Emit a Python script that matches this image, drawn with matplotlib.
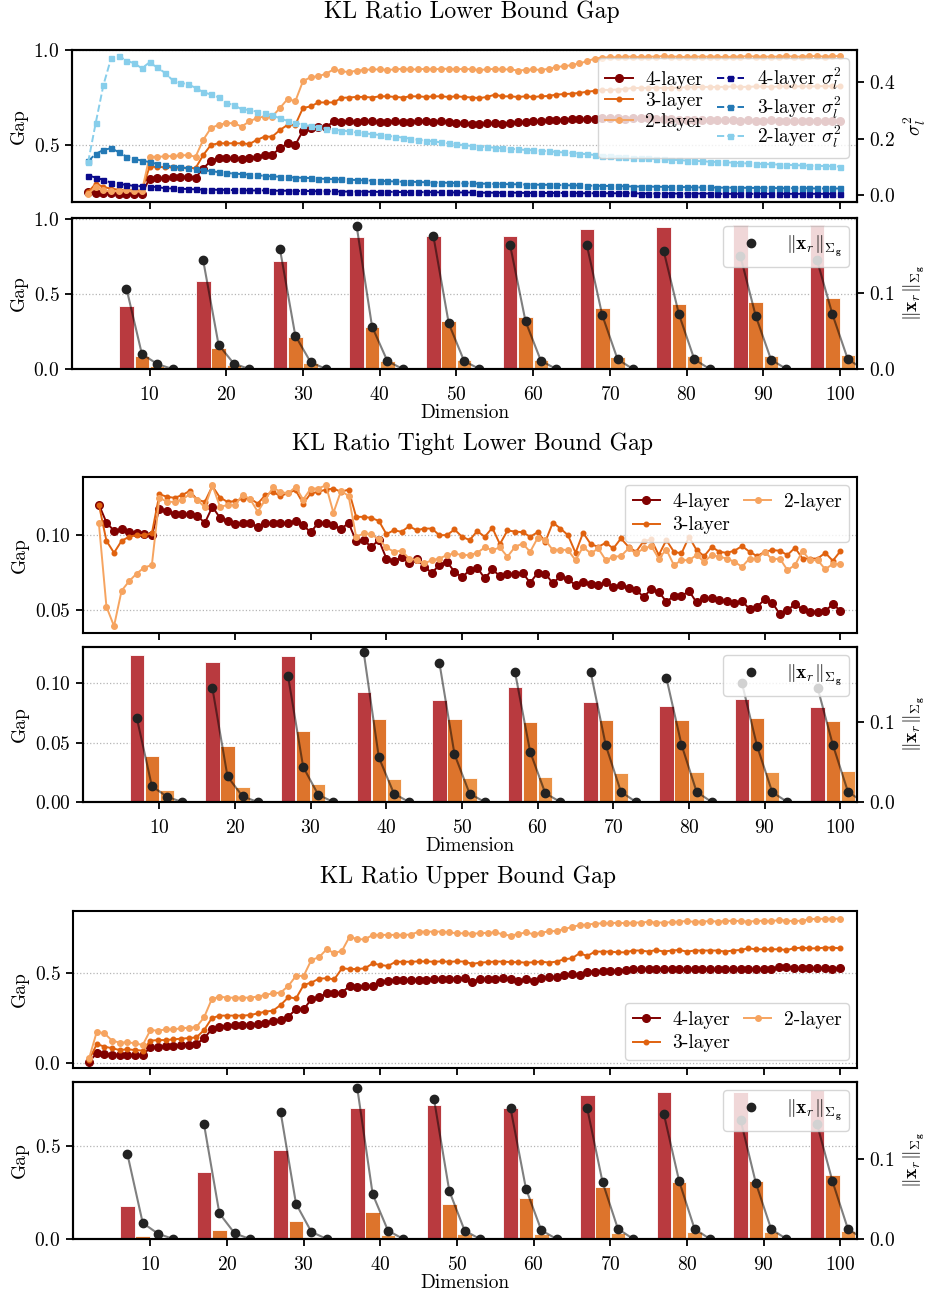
import numpy as np
import matplotlib
matplotlib.use("Agg")
import matplotlib.pyplot as plt
from matplotlib.ticker import MultipleLocator

plt.rcParams.update({
    "font.family": "serif",
    "font.serif": ["cmr10"],
    "mathtext.fontset": "cm",
    "axes.formatter.use_mathtext": True,
    "axes.unicode_minus": False,
    "font.size": 14,
})

# ---------------- data ----------------
dims = np.arange(2, 101)
groups = np.arange(10, 101, 10)

# KL ratio lower bound gap (lines)
lb4 = [0.252, 0.250, 0.248, 0.246, 0.244, 0.244, 0.242, 0.242, 0.323, 0.326,
       0.326, 0.330, 0.332, 0.334, 0.328, 0.376, 0.417, 0.429, 0.429, 0.429,
       0.427, 0.432, 0.438, 0.447, 0.450, 0.482, 0.509, 0.500, 0.576, 0.588,
       0.594, 0.594, 0.624, 0.622, 0.626, 0.620, 0.624, 0.624, 0.620, 0.622,
       0.624, 0.620, 0.622, 0.626, 0.624, 0.620, 0.624, 0.622, 0.618, 0.615,
       0.612, 0.608, 0.614, 0.616, 0.612, 0.618, 0.620, 0.622, 0.625, 0.626,
       0.630, 0.632, 0.633, 0.635, 0.636, 0.638, 0.638, 0.640, 0.640, 0.640,
       0.638, 0.640, 0.642, 0.640, 0.638, 0.636, 0.636, 0.634, 0.634, 0.632,
       0.632, 0.630, 0.632, 0.630, 0.630, 0.628, 0.630, 0.628, 0.628, 0.630,
       0.628, 0.626, 0.628, 0.628, 0.626, 0.628, 0.626, 0.628, 0.628]
lb3 = [0.252, 0.297, 0.279, 0.270, 0.265, 0.262, 0.262, 0.260, 0.385, 0.385,
       0.383, 0.383, 0.380, 0.380, 0.378, 0.447, 0.500, 0.509, 0.509, 0.509,
       0.509, 0.505, 0.527, 0.544, 0.544, 0.579, 0.606, 0.606, 0.695, 0.703,
       0.724, 0.724, 0.724, 0.748, 0.750, 0.753, 0.753, 0.750, 0.756, 0.756,
       0.753, 0.750, 0.756, 0.756, 0.753, 0.756, 0.756, 0.753, 0.756, 0.753,
       0.750, 0.747, 0.753, 0.765, 0.756, 0.756, 0.753, 0.756, 0.753, 0.756,
       0.758, 0.765, 0.768, 0.770, 0.774, 0.780, 0.785, 0.790, 0.790, 0.792,
       0.795, 0.800, 0.800, 0.800, 0.802, 0.800, 0.800, 0.802, 0.804, 0.804,
       0.805, 0.806, 0.805, 0.806, 0.808, 0.806, 0.806, 0.808, 0.808, 0.806,
       0.808, 0.809, 0.808, 0.809, 0.808, 0.809, 0.810, 0.809, 0.809]
lb2 = [0.244, 0.279, 0.262, 0.256, 0.258, 0.262, 0.256, 0.256, 0.438, 0.438,
       0.440, 0.442, 0.445, 0.447, 0.438, 0.527, 0.589, 0.606, 0.615, 0.615,
       0.597, 0.624, 0.642, 0.650, 0.650, 0.695, 0.742, 0.730, 0.836, 0.857,
       0.862, 0.875, 0.898, 0.889, 0.883, 0.892, 0.895, 0.898, 0.898, 0.895,
       0.898, 0.901, 0.898, 0.898, 0.901, 0.898, 0.901, 0.901, 0.898, 0.901,
       0.898, 0.895, 0.898, 0.901, 0.898, 0.898, 0.892, 0.895, 0.898, 0.895,
       0.901, 0.910, 0.915, 0.920, 0.930, 0.940, 0.955, 0.960, 0.962, 0.962,
       0.965, 0.965, 0.962, 0.965, 0.965, 0.968, 0.965, 0.965, 0.962, 0.965,
       0.965, 0.965, 0.965, 0.962, 0.965, 0.965, 0.968, 0.965, 0.965, 0.965,
       0.965, 0.968, 0.965, 0.965, 0.968, 0.968, 0.965, 0.968, 0.968]

# sigma_l^2 (right axis of the first panel)
s4 = [0.069, 0.062, 0.053, 0.044, 0.039, 0.036, 0.032, 0.031, 0.030, 0.028,
      0.024, 0.023, 0.022, 0.021, 0.020, 0.019, 0.019, 0.018, 0.018, 0.017,
      0.017, 0.016, 0.016, 0.016, 0.015, 0.015, 0.015, 0.014, 0.014, 0.014,
      0.013, 0.013, 0.013, 0.012, 0.012, 0.012, 0.012, 0.011, 0.011, 0.011,
      0.011, 0.010, 0.010, 0.010, 0.010, 0.010, 0.009, 0.009, 0.009, 0.009,
      0.009, 0.008, 0.008, 0.008, 0.008, 0.008, 0.008, 0.007, 0.007, 0.007,
      0.007, 0.007, 0.007, 0.007, 0.006, 0.006, 0.006, 0.006, 0.006, 0.006,
      0.006, 0.006, 0.005, 0.005, 0.005, 0.005, 0.005, 0.005, 0.005, 0.005,
      0.005, 0.005, 0.004, 0.004, 0.004, 0.004, 0.004, 0.004, 0.004, 0.004,
      0.004, 0.004, 0.004, 0.004, 0.004, 0.004, 0.004, 0.004, 0.004]
s3 = [0.120, 0.146, 0.160, 0.166, 0.152, 0.136, 0.128, 0.122, 0.117, 0.110,
      0.106, 0.101, 0.098, 0.095, 0.091, 0.088, 0.085, 0.081, 0.078, 0.076,
      0.074, 0.072, 0.070, 0.068, 0.066, 0.065, 0.063, 0.062, 0.061, 0.060,
      0.058, 0.057, 0.056, 0.055, 0.054, 0.053, 0.052, 0.051, 0.050, 0.049,
      0.048, 0.047, 0.047, 0.046, 0.045, 0.044, 0.044, 0.043, 0.042, 0.041,
      0.041, 0.040, 0.040, 0.039, 0.039, 0.038, 0.038, 0.037, 0.037, 0.036,
      0.036, 0.035, 0.035, 0.034, 0.034, 0.033, 0.033, 0.032, 0.032, 0.031,
      0.031, 0.030, 0.030, 0.030, 0.029, 0.029, 0.028, 0.028, 0.028, 0.027,
      0.027, 0.027, 0.026, 0.026, 0.026, 0.026, 0.025, 0.025, 0.025, 0.025,
      0.024, 0.024, 0.024, 0.024, 0.024, 0.023, 0.023, 0.023, 0.023]
s2 = [0.116, 0.257, 0.391, 0.486, 0.494, 0.477, 0.468, 0.450, 0.471, 0.453,
      0.434, 0.408, 0.399, 0.393, 0.381, 0.365, 0.357, 0.347, 0.326, 0.320,
      0.304, 0.302, 0.296, 0.290, 0.284, 0.272, 0.263, 0.257, 0.249, 0.245,
      0.240, 0.236, 0.232, 0.229, 0.226, 0.222, 0.219, 0.216, 0.213, 0.210,
      0.207, 0.204, 0.200, 0.196, 0.193, 0.190, 0.187, 0.183, 0.180, 0.177,
      0.174, 0.172, 0.170, 0.168, 0.166, 0.164, 0.162, 0.160, 0.159, 0.157,
      0.155, 0.153, 0.151, 0.149, 0.147, 0.145, 0.142, 0.140, 0.138, 0.136,
      0.135, 0.133, 0.131, 0.130, 0.128, 0.127, 0.125, 0.124, 0.122, 0.121,
      0.120, 0.118, 0.117, 0.116, 0.115, 0.113, 0.112, 0.111, 0.110, 0.109,
      0.108, 0.107, 0.106, 0.105, 0.104, 0.103, 0.103, 0.102, 0.101]

# KL ratio tight lower bound gap (lines)
tlb4 = [0.1204, 0.1084, 0.1029, 0.1040, 0.1022, 0.1016, 0.1007, 0.1000, 0.1173, 0.1162,
        0.1140, 0.1144, 0.1140, 0.1129, 0.1082, 0.1189, 0.1116, 0.1096, 0.1073, 0.1078,
        0.1078, 0.1056, 0.1078, 0.1078, 0.1078, 0.1078, 0.1096, 0.1067, 0.1018, 0.1084,
        0.1082, 0.1067, 0.1040, 0.1082, 0.0960, 0.0967, 0.0922, 0.0967, 0.0844, 0.0829,
        0.0851, 0.0816, 0.0844, 0.0789, 0.0749, 0.0800, 0.0822, 0.0756, 0.0718, 0.0767,
        0.0784, 0.0711, 0.0771, 0.0727, 0.0740, 0.0744, 0.0749, 0.0682, 0.0749, 0.0744,
        0.0678, 0.0727, 0.0705, 0.0667, 0.0690, 0.0671, 0.0667, 0.0684, 0.0656, 0.0667,
        0.0644, 0.0633, 0.0589, 0.0638, 0.0622, 0.0556, 0.0593, 0.0593, 0.0627, 0.0551,
        0.0578, 0.0578, 0.0567, 0.0560, 0.0544, 0.0560, 0.0507, 0.0522, 0.0571, 0.0549,
        0.0473, 0.0500, 0.0538, 0.0504, 0.0489, 0.0489, 0.0493, 0.0540, 0.0496]
tlb3 = [0.1204, 0.0962, 0.0882, 0.0962, 0.0989, 0.1000, 0.1000, 0.1011, 0.1273, 0.1256,
        0.1249, 0.1267, 0.1295, 0.1237, 0.1222, 0.1327, 0.1251, 0.1222, 0.1227, 0.1244,
        0.1244, 0.1211, 0.1267, 0.1289, 0.1260, 0.1282, 0.1300, 0.1211, 0.1278, 0.1289,
        0.1304, 0.1311, 0.1289, 0.1304, 0.1122, 0.1122, 0.1115, 0.1095, 0.1007, 0.1033,
        0.1022, 0.1060, 0.1033, 0.1044, 0.1044, 0.1000, 0.1000, 0.1038, 0.0989, 0.0967,
        0.1027, 0.0989, 0.1049, 0.0940, 0.1031, 0.1024, 0.1020, 0.0989, 0.1020, 0.0956,
        0.1084, 0.1044, 0.1000, 0.0882, 0.1016, 0.0940, 0.0922, 0.0949, 0.0911, 0.0978,
        0.0922, 0.0889, 0.0960, 0.0971, 0.0867, 0.0967, 0.0889, 0.0878, 0.0989, 0.0900,
        0.0860, 0.0922, 0.0889, 0.0882, 0.0896, 0.0927, 0.0889, 0.0860, 0.0889, 0.0900,
        0.0896, 0.0867, 0.0916, 0.0844, 0.0844, 0.0844, 0.0882, 0.0829, 0.0893]
tlb2 = [0.1078, 0.0522, 0.0393, 0.0629, 0.0693, 0.0744, 0.0784, 0.0800, 0.1251, 0.1222,
        0.1222, 0.1237, 0.1273, 0.1237, 0.1185, 0.1333, 0.1190, 0.1200, 0.1200, 0.1270,
        0.1240, 0.1156, 0.1237, 0.1318, 0.1289, 0.1278, 0.1322, 0.1237, 0.1311, 0.1311,
        0.1333, 0.1149, 0.1295, 0.1262, 0.0989, 0.1011, 0.1007, 0.0971, 0.0918, 0.0889,
        0.0896, 0.0844, 0.0833, 0.0811, 0.0833, 0.0844, 0.0867, 0.0878, 0.0867, 0.0867,
        0.0882, 0.0918, 0.0900, 0.0918, 0.0856, 0.0922, 0.0944, 0.0889, 0.0982, 0.0967,
        0.0900, 0.0904, 0.0900, 0.0833, 0.0922, 0.0878, 0.0911, 0.0833, 0.0856, 0.0860,
        0.0911, 0.0878, 0.0911, 0.0927, 0.0844, 0.0904, 0.0800, 0.0833, 0.0833, 0.0867,
        0.0822, 0.0867, 0.0856, 0.0844, 0.0822, 0.0789, 0.0844, 0.0844, 0.0889, 0.0838,
        0.0844, 0.0767, 0.0800, 0.0893, 0.0833, 0.0833, 0.0773, 0.0807, 0.0807]

# KL ratio upper bound gap (lines)
ub4 = [0.009, 0.055, 0.051, 0.048, 0.046, 0.046, 0.046, 0.046, 0.088, 0.090,
       0.094, 0.097, 0.100, 0.102, 0.106, 0.138, 0.187, 0.202, 0.208, 0.210,
       0.211, 0.213, 0.215, 0.220, 0.235, 0.238, 0.258, 0.298, 0.298, 0.353,
       0.364, 0.386, 0.386, 0.390, 0.427, 0.420, 0.427, 0.427, 0.450, 0.455,
       0.458, 0.458, 0.460, 0.462, 0.462, 0.465, 0.465, 0.466, 0.467, 0.469,
       0.451, 0.463, 0.465, 0.465, 0.469, 0.465, 0.456, 0.463, 0.456, 0.469,
       0.474, 0.478, 0.487, 0.493, 0.487, 0.506, 0.506, 0.509, 0.509, 0.511,
       0.515, 0.519, 0.520, 0.520, 0.520, 0.518, 0.520, 0.518, 0.520, 0.518,
       0.520, 0.520, 0.518, 0.520, 0.518, 0.520, 0.520, 0.518, 0.520, 0.520,
       0.530, 0.533, 0.526, 0.524, 0.524, 0.524, 0.524, 0.522, 0.524]
ub3 = [0.018, 0.106, 0.092, 0.083, 0.073, 0.077, 0.073, 0.070, 0.125, 0.128,
       0.128, 0.132, 0.136, 0.139, 0.143, 0.183, 0.248, 0.263, 0.263, 0.263,
       0.263, 0.266, 0.275, 0.285, 0.290, 0.322, 0.364, 0.358, 0.432, 0.445,
       0.467, 0.469, 0.463, 0.524, 0.520, 0.520, 0.524, 0.551, 0.542, 0.537,
       0.560, 0.560, 0.560, 0.562, 0.562, 0.560, 0.562, 0.560, 0.562, 0.561,
       0.548, 0.555, 0.558, 0.561, 0.561, 0.558, 0.558, 0.555, 0.557, 0.561,
       0.555, 0.561, 0.574, 0.579, 0.607, 0.592, 0.616, 0.616, 0.616, 0.612,
       0.612, 0.622, 0.622, 0.616, 0.625, 0.616, 0.622, 0.625, 0.616, 0.622,
       0.622, 0.622, 0.622, 0.616, 0.622, 0.625, 0.634, 0.629, 0.629, 0.629,
       0.629, 0.625, 0.634, 0.638, 0.634, 0.634, 0.638, 0.638, 0.634]
ub2 = [0.027, 0.174, 0.165, 0.125, 0.114, 0.116, 0.110, 0.101, 0.183, 0.180,
       0.187, 0.187, 0.193, 0.196, 0.200, 0.253, 0.353, 0.368, 0.362, 0.362,
       0.362, 0.362, 0.368, 0.377, 0.386, 0.390, 0.427, 0.482, 0.482, 0.570,
       0.585, 0.629, 0.607, 0.621, 0.699, 0.684, 0.684, 0.708, 0.708, 0.708,
       0.708, 0.708, 0.710, 0.726, 0.726, 0.726, 0.726, 0.722, 0.717, 0.717,
       0.715, 0.717, 0.720, 0.722, 0.711, 0.704, 0.713, 0.722, 0.712, 0.720,
       0.728, 0.730, 0.740, 0.752, 0.762, 0.765, 0.770, 0.772, 0.772, 0.776,
       0.772, 0.776, 0.776, 0.780, 0.776, 0.776, 0.778, 0.782, 0.784, 0.780,
       0.782, 0.784, 0.782, 0.784, 0.787, 0.784, 0.782, 0.784, 0.787, 0.784,
       0.790, 0.787, 0.784, 0.787, 0.795, 0.797, 0.797, 0.797, 0.797]

# per-layer bars at each dimension group (layer 1..4)
lb_bar1 = [0.420, 0.589, 0.723, 0.886, 0.890, 0.892, 0.937, 0.948, 0.960, 0.960]
lb_bar2 = [0.087, 0.140, 0.212, 0.283, 0.320, 0.350, 0.410, 0.437, 0.446, 0.473]
lb_bar3 = [0.020, 0.030, 0.040, 0.054, 0.060, 0.062, 0.082, 0.085, 0.085, 0.094]
lb_bar4 = [0.002, 0.002, 0.002, 0.003, 0.003, 0.003, 0.003, 0.003, 0.003, 0.003]

tlb_bar1 = [0.1235, 0.1180, 0.1227, 0.0924, 0.0857, 0.0966, 0.0840, 0.0812, 0.0866, 0.0798]
tlb_bar2 = [0.0387, 0.0470, 0.0600, 0.0697, 0.0695, 0.0672, 0.0689, 0.0692, 0.0706, 0.0680]
tlb_bar3 = [0.0098, 0.0126, 0.0154, 0.0193, 0.0202, 0.0207, 0.0240, 0.0250, 0.0252, 0.0258]
tlb_bar4 = [0.0003, 0.0003, 0.0003, 0.0004, 0.0004, 0.0004, 0.0004, 0.0004, 0.0004, 0.0004]

ub_bar1 = [0.178, 0.357, 0.478, 0.703, 0.719, 0.701, 0.770, 0.786, 0.785, 0.797]
ub_bar2 = [0.014, 0.050, 0.096, 0.146, 0.188, 0.220, 0.276, 0.304, 0.310, 0.340]
ub_bar3 = [0.002, 0.004, 0.010, 0.021, 0.025, 0.028, 0.034, 0.037, 0.039, 0.044]
ub_bar4 = [0.000, 0.000, 0.001, 0.001, 0.001, 0.001, 0.001, 0.001, 0.001, 0.001]

# ||x_r||_{Sigma_g} per layer (right axis of bar panels)
xr1 = [0.106, 0.143, 0.158, 0.188, 0.175, 0.163, 0.163, 0.156, 0.149, 0.143]
xr2 = [0.020, 0.032, 0.044, 0.056, 0.060, 0.063, 0.071, 0.072, 0.070, 0.072]
xr3 = [0.0066, 0.0070, 0.0090, 0.0105, 0.0105, 0.0110, 0.0128, 0.0128, 0.0123, 0.0130]
xr4 = [0.0, 0.0, 0.0, 0.0, 0.0, 0.0, 0.0, 0.0, 0.0, 0.0]

# ---------------- style ----------------
C4, C3, C2 = "#800000", "#e0620f", "#f6a460"
CS4, CS3, CS2 = "#0a0a8c", "#2479b5", "#87ceeb"
BAR_COLORS = ["#b93a3f", "#dd742c", "#eb9246", "#f2b070"]
OFFSETS = np.array([-3, -1, 1, 3])
XLIM = (-0.1, 102.2)
XR_LABEL = r"$\|\mathbf{x}_r\|_{\Sigma_\mathbf{g}}$"
LEG = dict(fontsize=14, borderaxespad=0.4, handlelength=1.4, handletextpad=0.65,
           columnspacing=0.7)

W, H = 929, 1300
fig = plt.figure(figsize=(W / 100, H / 100), dpi=100)


def box(l, t, r, b):
    return [l / W, 1 - b / H, (r - l) / W, (b - t) / H]


def style(ax):
    for s in ax.spines.values():
        s.set_linewidth(1.5)
    ax.tick_params(width=1.3, length=5, labelsize=14, pad=4)
    ax.tick_params(axis="x", pad=7.5)
    ax.set_xlim(*XLIM)
    ax.set_xticks(groups)


def grid(ax):
    ax.set_axisbelow(True)
    ax.yaxis.grid(True, ls=":", color="#b5b5b5", lw=0.9)


def line_panel(ax, y4, y3, y2):
    style(ax)
    grid(ax)
    h4, = ax.plot(dims, y4, "-o", color=C4, ms=5.5, lw=1.4, label="4-layer")
    h3, = ax.plot(dims, y3, "-o", color=C3, ms=3.3, lw=1.4, label="3-layer")
    h2, = ax.plot(dims, y2, "-o", color=C2, ms=4.0, lw=1.4, label="2-layer")
    ax.tick_params(labelbottom=False)
    ax.set_ylabel("Gap", fontsize=14)
    return [h4, h3, h2]


def bar_panel(ax, bars, ylim_l, ylim_r, loc_l):
    style(ax)
    grid(ax)
    for vals, off, col in zip(bars, OFFSETS, BAR_COLORS):
        ax.bar(groups + off, vals, width=1.9, color=col, edgecolor="white", lw=0.6)
    ax.set_ylim(*ylim_l)
    ax.yaxis.set_major_locator(MultipleLocator(loc_l))
    ax.set_ylabel("Gap", fontsize=14)
    ax.set_xlabel("Dimension", fontsize=14, labelpad=0)
    axr = ax.twinx()
    style(axr)
    norms = np.array([xr1, xr2, xr3, xr4])
    for i, g in enumerate(groups):
        axr.plot(g + OFFSETS, norms[:, i], color="k", alpha=0.5, lw=1.5)
    xs = np.concatenate([groups + o for o in OFFSETS])
    ys = np.concatenate([norms[j] for j in range(4)])
    axr.plot(xs, ys, "o", color="#222222", ms=6, label=XR_LABEL)
    axr.set_ylim(*ylim_r)
    axr.yaxis.set_major_locator(MultipleLocator(0.1))
    axr.set_ylabel(XR_LABEL, fontsize=14)
    axr.legend(loc="upper right", fontsize=14, borderaxespad=0.4)
    return axr


# ---- Panel pair 1: lower bound ----
ax1 = fig.add_axes(box(72, 50, 857, 202))
hs = line_panel(ax1, lb4, lb3, lb2)
ax1.set_ylim(0.2, 1.0)
ax1.yaxis.set_major_locator(MultipleLocator(0.5))
ax1r = ax1.twinx()
style(ax1r)
g4, = ax1r.plot(dims, s4, "--s", color=CS4, ms=3.6, lw=1.4, label=r"4-layer $\sigma_l^2$")
g3, = ax1r.plot(dims, s3, "--s", color=CS3, ms=3.6, lw=1.4, label=r"3-layer $\sigma_l^2$")
g2, = ax1r.plot(dims, s2, "--s", color=CS2, ms=3.6, lw=1.4, label=r"2-layer $\sigma_l^2$")
ax1r.set_ylim(-0.025, 0.515)
ax1r.yaxis.set_major_locator(MultipleLocator(0.2))
ax1r.set_ylabel(r"$\sigma_l^2$", fontsize=14)
ax1r.legend(hs + [g4, g3, g2], [h.get_label() for h in hs + [g4, g3, g2]],
            ncol=2, loc="upper right", labelspacing=0.15, **LEG)

ax2 = fig.add_axes(box(72, 218, 857, 369))
bar_panel(ax2, [lb_bar1, lb_bar2, lb_bar3, lb_bar4], (0, 1.01), (0, 0.199), 0.5)
fig.text(472 / W, 1 - 12 / H, "KL Ratio Lower Bound Gap", ha="center", va="center", fontsize=17)

# ---- Panel pair 2: tight lower bound ----
ax3 = fig.add_axes(box(83, 477, 857, 633))
hs = line_panel(ax3, tlb4, tlb3, tlb2)
ax3.set_ylim(0.0347, 0.1388)
ax3.yaxis.set_major_locator(MultipleLocator(0.05))
ax3.legend(ncol=2, loc="upper right", labelspacing=0.3, **LEG)

ax4 = fig.add_axes(box(83, 647, 857, 802))
bar_panel(ax4, [tlb_bar1, tlb_bar2, tlb_bar3, tlb_bar4], (0, 0.1305), (0, 0.1945), 0.05)
fig.text(472 / W, 1 - 444 / H, "KL Ratio Tight Lower Bound Gap", ha="center", va="center", fontsize=17)

# ---- Panel pair 3: upper bound ----
ax5 = fig.add_axes(box(73, 911, 857, 1068))
hs = line_panel(ax5, ub4, ub3, ub2)
ax5.set_ylim(-0.026, 0.84)
ax5.yaxis.set_major_locator(MultipleLocator(0.5))
ax5.legend(ncol=2, loc="lower right", labelspacing=0.3, **LEG)

ax6 = fig.add_axes(box(73, 1082, 857, 1239))
bar_panel(ax6, [ub_bar1, ub_bar2, ub_bar3, ub_bar4], (0, 0.84), (0, 0.196), 0.5)
fig.text(468 / W, 1 - 877 / H, "KL Ratio Upper Bound Gap", ha="center", va="center", fontsize=17)

fig.savefig("out.png", dpi=100)
